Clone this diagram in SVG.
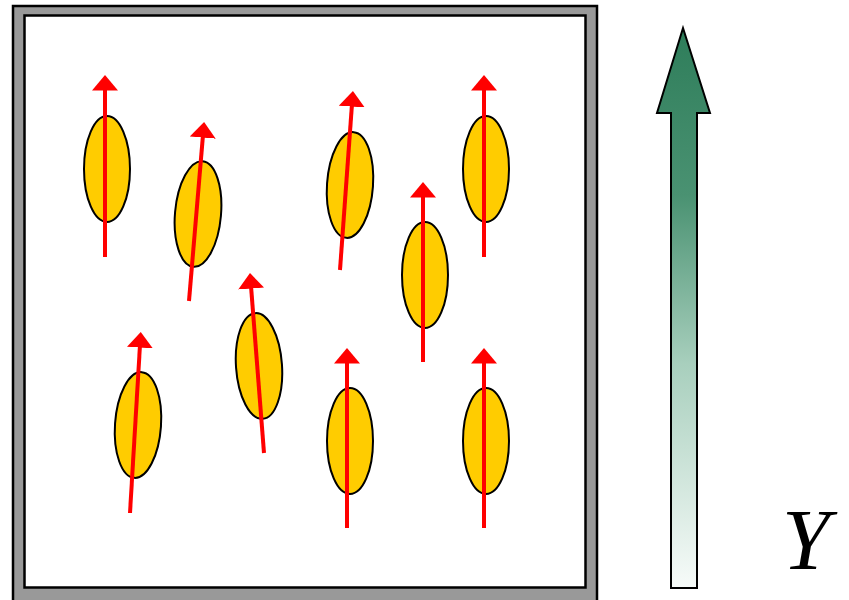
<svg xmlns="http://www.w3.org/2000/svg" width="849" height="600" viewBox="0 0 849 600">
<defs>
<linearGradient id="g" x1="0" y1="0" x2="0" y2="1">
<stop offset="0" stop-color="#2e7d5a"/>
<stop offset="0.3" stop-color="#4a9272"/>
<stop offset="0.6" stop-color="#a8cfbd"/>
<stop offset="1" stop-color="#f7fbf9"/>
</linearGradient>
<marker id="ah" viewBox="0 0 6 10" refX="1" refY="5" markerWidth="3.9" markerHeight="6.5" orient="auto" markerUnits="strokeWidth">
<path d="M0,0 L6,5 L0,10 Z" fill="#ff0000"/>
</marker>
<style>
.e{fill:#ffcc00;stroke:#000;stroke-width:2}
.a{stroke:#ff0000;stroke-width:4;fill:none;marker-end:url(#ah)}
</style>
</defs>
<g id="frame">
<rect x="13" y="6" width="584" height="598" fill="#999" stroke="#000" stroke-width="2.5"/>
<rect x="24.5" y="15.5" width="561" height="572" fill="#fff" stroke="#000" stroke-width="2.5"/>
</g>
<g id="n1"><ellipse class="e" cx="107" cy="169" rx="23" ry="53"/></g>
<g id="n2"><ellipse class="e" cx="198" cy="214" rx="23" ry="53" transform="rotate(5 198 214)"/></g>
<g id="n3"><ellipse class="e" cx="350" cy="185" rx="23" ry="53" transform="rotate(4 350 185)"/></g>
<g id="n4"><ellipse class="e" cx="486" cy="169" rx="23" ry="53"/></g>
<g id="n5"><ellipse class="e" cx="425" cy="275" rx="23" ry="53"/></g>
<g id="n6"><ellipse class="e" cx="259" cy="366" rx="23" ry="53" transform="rotate(-4 259 366)"/></g>
<g id="n7"><ellipse class="e" cx="138" cy="425" rx="23" ry="53" transform="rotate(4 138 425)"/></g>
<g id="n8"><ellipse class="e" cx="350" cy="441" rx="23" ry="53"/></g>
<g id="n9"><ellipse class="e" cx="486" cy="441" rx="23" ry="53"/></g>
<g id="connectors">
<line class="a" x1="105" y1="257" x2="105" y2="88"/>
<line class="a" x1="189" y1="301" x2="203" y2="135"/>
<line class="a" x1="340" y1="270" x2="352" y2="104"/>
<line class="a" x1="484" y1="257" x2="484" y2="88"/>
<line class="a" x1="423" y1="362" x2="423" y2="195"/>
<line class="a" x1="264" y1="453" x2="251" y2="286"/>
<line class="a" x1="130" y1="513" x2="140" y2="345"/>
<line class="a" x1="347" y1="528" x2="347" y2="361"/>
<line class="a" x1="484" y1="528" x2="484" y2="361"/>
</g>
<g id="bigarrow">
<path d="M683,28 L710,113 L697,113 L697,588 L671,588 L671,113 L657,113 Z" fill="url(#g)" stroke="#000" stroke-width="2"/>
</g>
<text x="782" y="569" font-family="Liberation Serif, serif" font-style="italic" font-size="86" fill="#000">Y</text>
</svg>
